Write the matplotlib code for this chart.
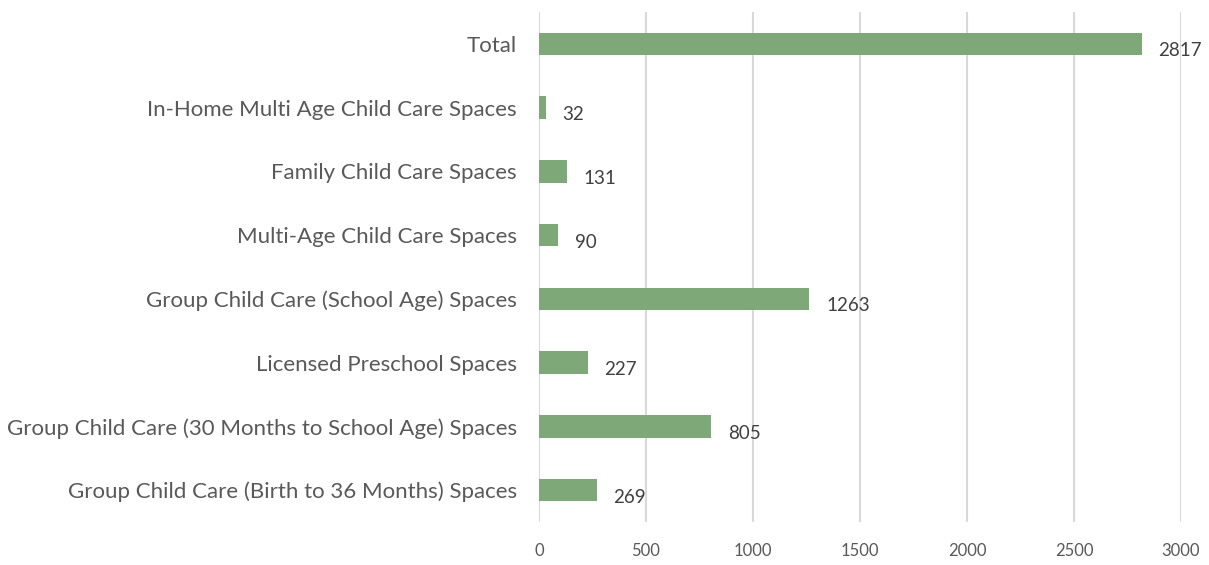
import matplotlib
matplotlib.use("Agg")
import matplotlib.pyplot as plt

categories = [
    "Group Child Care (Birth to 36 Months) Spaces",
    "Group Child Care (30 Months to School Age) Spaces",
    "Licensed Preschool Spaces",
    "Group Child Care (School Age) Spaces",
    "Multi-Age Child Care Spaces",
    "Family Child Care Spaces",
    "In-Home Multi Age Child Care Spaces",
    "Total",
]
values = [269, 805, 227, 1263, 90, 131, 32, 2817]
xticks = [0, 500, 1000, 1500, 2000, 2500, 3000]

plt.rcParams['font.family'] = ['Lato', 'DejaVu Sans']

fig = plt.figure(figsize=(12.09, 5.65), dpi=100)
ax = fig.add_axes([539/1209, 1 - 522/565, (1181 - 539)/1209, (522 - 12)/565])

y = list(range(len(categories)))
ax.barh(y, values, height=0.35, color="#7ea878", zorder=3)

ax.set_xlim(0, 3000)
ax.set_ylim(-0.5, len(categories) - 0.5)
ax.set_xticks(xticks)
ax.set_xticklabels([str(t) for t in xticks])
ax.set_yticks(y)
ax.set_yticklabels(categories)

ax.grid(axis='x', color='#d9d9d9', linewidth=1.5, zorder=0)
ax.set_axisbelow(True)
for s in ax.spines.values():
    s.set_visible(False)
ax.tick_params(axis='both', length=0, colors='#595959')
ax.tick_params(axis='y', pad=16, labelsize=16)
ax.tick_params(axis='x', pad=15, labelsize=12)

for yi, v in zip(y, values):
    ax.annotate(str(v), xy=(v, yi), xytext=(12, -5), textcoords='offset points',
                ha='left', va='center', fontsize=13.5, color='#404040', zorder=4)

fig.savefig("out.png", dpi=100)
